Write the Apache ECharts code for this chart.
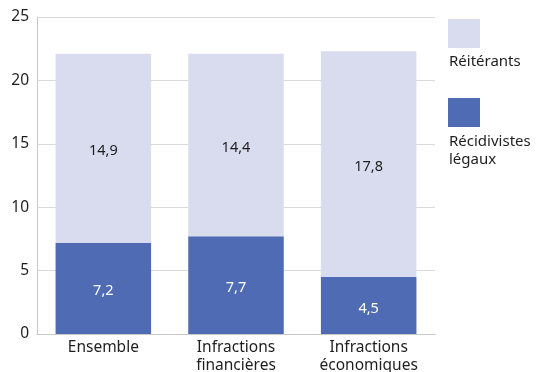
<!DOCTYPE html>
<html><head><meta charset="utf-8">
<script src="https://cdn.jsdelivr.net/npm/echarts@6/dist/echarts.min.js"></script>
<style>html,body{margin:0;padding:0;background:#fff}#c{width:538px;height:372px}</style>
</head><body><div id="c"></div>
<script>
const categories = ['Ensemble', 'Infractions\nfinancières', 'Infractions\néconomiques'];
const recidivistes = [7.2, 7.7, 4.5];
const reiterants = [14.9, 14.4, 17.8];
const yTicks = { min: 0, max: 25, interval: 5 };
const seriesNames = ['Réitérants', 'Récidivistes légaux'];
const legendLabels = ['Réitérants', 'Récidivistes\nlégaux'];

const FONT = 'Noto Sans';
const fmt = p => String(p.value).replace('.', ',');
const chart = echarts.init(document.getElementById('c'), null, { renderer: 'canvas' });
chart.setOption({
  animation: false,
  textStyle: { fontFamily: FONT },
  grid: { left: 37, right: 103, top: 17, bottom: 38, containLabel: false, outerBoundsMode: 'none' },
  legend: {
    orient: 'vertical', left: 448, top: 19, padding: 0,
    itemWidth: 32, itemHeight: 29, itemGap: 50,
    icon: 'rect', selectedMode: false,
    formatter: () => '',
    data: seriesNames
  },
  graphic: [
    { type: 'text', left: 449, top: 53, style: { text: legendLabels[0], fontFamily: FONT, fontSize: 15, lineHeight: 18, fill: '#1e1e1e' } },
    { type: 'text', left: 449, top: 133, style: { text: legendLabels[1], fontFamily: FONT, fontSize: 15, lineHeight: 18, fill: '#1e1e1e' } }
  ],
  xAxis: {
    type: 'category', data: categories,
    axisLine: { lineStyle: { color: '#c8c8c8' } },
    axisTick: { show: false },
    axisLabel: { fontFamily: FONT, fontSize: 15.5, color: '#1e1e1e', lineHeight: 18, margin: 5, interval: 0 }
  },
  yAxis: {
    type: 'value', min: yTicks.min, max: yTicks.max, interval: yTicks.interval,
    axisLine: { show: true, lineStyle: { color: '#c8c8c8' } },
    axisTick: { show: false },
    splitLine: { lineStyle: { color: '#d9d9d9' } },
    axisLabel: { fontFamily: FONT, fontSize: 15.5, color: '#1e1e1e', margin: 8 }
  },
  series: [
    {
      name: seriesNames[1], type: 'bar', stack: 's', data: recidivistes, barWidth: '72%',
      itemStyle: { color: '#4f6bb3' },
      label: { show: true, position: 'inside', offset: [0, 3], color: '#ffffff', fontSize: 14.5, fontFamily: FONT, formatter: fmt }
    },
    {
      name: seriesNames[0], type: 'bar', stack: 's', data: reiterants, barWidth: '72%',
      itemStyle: { color: '#d9dcef' },
      label: { show: true, position: 'inside', offset: [0, 3], color: '#1e1e1e', fontSize: 14.5, fontFamily: FONT, formatter: fmt }
    }
  ]
});
</script></body></html>
